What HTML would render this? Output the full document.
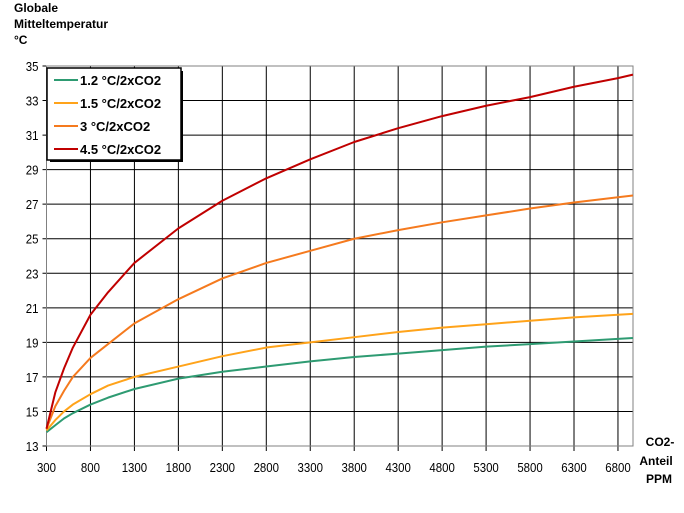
<!DOCTYPE html>
<html><head><meta charset="utf-8"><style>
body{margin:0;background:#fff;font-family:"Liberation Sans",Arial,sans-serif;}
svg text{font-family:"Liberation Sans",Arial,sans-serif;}
</style></head><body>
<svg width="684" height="508" id="chart">
<text x="14" y="12" font-size="12" font-weight="bold">Globale</text>
<text x="14" y="28" font-size="12" font-weight="bold">Mitteltemperatur</text>
<text x="14" y="44" font-size="12" font-weight="bold">°C</text>
<text x="660" y="446" font-size="12" font-weight="bold" text-anchor="middle">CO2-</text>
<text x="656" y="465" font-size="12" font-weight="bold" text-anchor="middle">Anteil</text>
<text x="659" y="483" font-size="12" font-weight="bold" text-anchor="middle">PPM</text>
<g id="grid"></g><g id="series"></g>
<g>
<rect x="47" y="68" width="134" height="92" fill="#fff" stroke="#000" stroke-width="1.5"/>
<rect x="181" y="71" width="2" height="91" fill="#000"/><rect x="50" y="160" width="133" height="2" fill="#000"/>
<g id="legend-items"></g>
</g>
</svg>
<script>
const xTicks=[300,800,1300,1800,2300,2800,3300,3800,4300,4800,5300,5800,6300,6800];
const yTicks=[13,15,17,19,21,23,25,27,29,31,33,35];
const xs=[300,400,500,600,800,1000,1300,1800,2300,2800,3300,3800,4300,4800,5300,5800,6300,6800,6970];
const s12=[13.8,14.2,14.6,14.9,15.4,15.8,16.3,16.9,17.3,17.6,17.9,18.15,18.35,18.55,18.75,18.9,19.05,19.2,19.25];
const s15=[13.9,14.5,15.0,15.4,16.0,16.5,17.0,17.6,18.2,18.7,19.0,19.3,19.6,19.85,20.05,20.25,20.45,20.6,20.65];
const s3=[14.0,15.3,16.2,17.0,18.1,18.9,20.1,21.5,22.7,23.6,24.3,25.0,25.5,25.95,26.35,26.75,27.1,27.4,27.5];
const s45=[14.0,16.1,17.5,18.7,20.6,21.9,23.6,25.6,27.2,28.5,29.6,30.6,31.4,32.1,32.7,33.2,33.8,34.3,34.5];
const names=["1.2 °C/2xCO2","1.5 °C/2xCO2","3 °C/2xCO2","4.5 °C/2xCO2"];
const colors=["#2e9b72","#ffa31a","#f57a1e","#c00000"];
const series=[s12,s15,s3,s45];
const X0=46.5,X1=633,XMIN=300,XMAX=6971,Y0=446,Y1=66,YMIN=13,YMAX=35;
const sx=v=>X0+(v-XMIN)/(XMAX-XMIN)*(X1-X0);
const sy=v=>Y0-(v-YMIN)/(YMAX-YMIN)*(Y0-Y1);
const NS="http://www.w3.org/2000/svg";
const grid=document.getElementById('grid');
function mk(tag,at,par){const e=document.createElementNS(NS,tag);for(const k in at)e.setAttribute(k,at[k]);par.appendChild(e);return e;}
yTicks.forEach(t=>{
 const l=mk('line',{x1:X0-4,x2:X1,y1:sy(t),y2:sy(t),stroke:'#000','stroke-width':1},grid);
 
 
 const tx=mk('text',{x:X0-8,y:sy(t)+5,'font-size':13,'text-anchor':'end',fill:'#000',transform:`translate(${X0-8},0) scale(0.88,1) translate(${-(X0-8)},0)`},grid);tx.textContent=t;
 
 
});
xTicks.forEach(t=>{
 const l=mk('line',{x1:sx(t),x2:sx(t),y1:Y1,y2:Y0+5,stroke:'#000','stroke-width':1},grid);
 
 
 const tx=mk('text',{x:sx(t),y:Y0+26,'font-size':13,'text-anchor':'middle',fill:'#000',transform:`translate(${sx(t)},0) scale(0.88,1) translate(${-sx(t)},0)`},grid);tx.textContent=t;
 
 
});
const fr=mk('rect',{x:X0,y:Y1,width:X1-X0,height:Y0-Y1,fill:'none',stroke:'#808080','stroke-width':1},grid);


const sg=document.getElementById('series');
series.forEach((s,i)=>{
 const p=mk('polyline',{points:xs.map((x,j)=>sx(x)+','+sy(s[j])).join(' '),fill:'none',stroke:colors[i],'stroke-width':2,'stroke-linejoin':'round'},sg);
 
 
});
const lg=document.getElementById('legend-items');
names.forEach((n,i)=>{
 const y=80+i*23;
 const l=mk('line',{x1:54,x2:78,y1:y,y2:y,stroke:colors[i],'stroke-width':2},lg);
 
 
 const t=mk('text',{x:80,y:y+5,'font-size':13,'font-weight':'bold'},lg);t.textContent=n;
 
 
});
</script>
</body></html>
